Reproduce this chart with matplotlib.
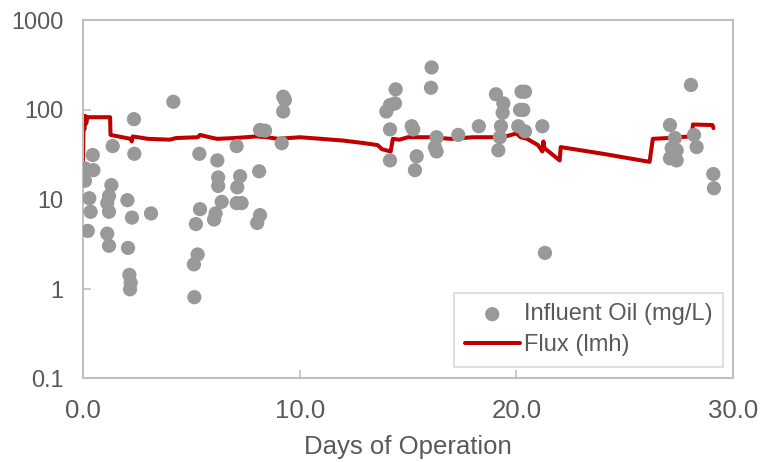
import matplotlib
matplotlib.use("Agg")
import matplotlib.pyplot as plt
from matplotlib.ticker import FixedLocator, FuncFormatter

plt.rcParams['font.family'] = ['Liberation Sans', 'DejaVu Sans']

# influent oil samples (day, mg/L)
oil_days = [0.09, 0.09, 0.22, 0.29, 0.35, 0.45, 0.48, 1.12, 1.12, 1.2, 1.2, 1.2, 1.31, 1.37,
            2.05, 2.08, 2.14, 2.17, 2.2, 2.26, 2.35, 2.37, 3.14, 4.17,
            5.12, 5.14, 5.21, 5.29, 5.37, 5.4, 6.05, 6.12, 6.2, 6.24, 6.24, 6.4,
            7.09, 7.09, 7.12, 7.25, 7.32, 8.04, 8.13, 8.17, 8.17, 8.4,
            9.17, 9.24, 9.24, 9.32,
            14.0, 14.17, 14.17, 14.17, 14.4, 14.43, 15.17, 15.24, 15.32, 15.4,
            16.06, 16.09, 16.24, 16.32, 16.32, 17.32, 18.27,
            19.06, 19.17, 19.24, 19.29, 19.37, 19.4,
            20.09, 20.17, 20.24, 20.32, 20.4, 20.4, 21.2, 21.32,
            27.09, 27.09, 27.17, 27.32, 27.4, 27.4, 28.06, 28.2, 28.32, 29.09, 29.12]
oil_vals = [22, 16, 4.4, 10.2, 7.2, 31, 21, 9, 4.1, 10.8, 7.2, 3.0, 14.3, 39,
            9.7, 2.84, 1.42, 0.98, 1.16, 6.2, 78, 32, 6.9, 122,
            1.86, 0.8, 5.25, 2.4, 32, 7.7, 5.9, 6.9, 27, 17.4, 14, 9.3,
            39, 9, 13.5, 18, 9, 5.4, 20.4, 6.6, 59, 58,
            42, 139, 95, 128,
            95, 112, 60, 27, 117, 168, 65, 60, 21, 30,
            175, 295, 38, 49, 34, 52, 65,
            148, 35, 49, 65, 92, 117,
            65, 99, 158, 99, 158, 57, 65, 2.5,
            67, 28.5, 37, 48, 35, 27, 188, 52, 38, 19, 13.2]

# flux trace (day, lmh)
flux_days = [0.0, 0.03, 0.06, 0.1, 0.15, 0.2, 0.5, 1.25, 1.27, 2.2, 2.25, 2.3, 3.0, 4.0,
             4.3, 5.3, 5.4, 6.0, 6.2, 7.0, 8.0, 8.5, 9.0, 10.0, 11.0, 12.0, 13.0,
             13.6, 13.8, 14.2, 14.3, 14.6, 15.0, 16.0, 17.0, 18.0, 19.0, 19.5, 20.0,
             20.2, 20.5, 21.0, 21.2, 21.25, 21.3, 22.0, 22.05, 24.0, 26.15, 26.3,
             27.0, 28.0, 28.1, 28.15, 29.05, 29.1]
flux_vals = [27, 80, 60, 85, 70, 82, 82, 82, 52, 47, 44, 50, 47, 46,
             48, 49, 52, 48, 47, 48, 50, 49, 47, 49, 47, 45, 42,
             40, 36, 34, 47, 46, 49, 49, 47, 49, 49, 50, 54,
             49, 47, 40, 34, 44, 37, 27, 38, 32, 26, 47,
             48, 50, 48, 68, 67, 62]

y_ticks = [0.1, 1, 10, 100, 1000]
x_ticks = [0, 10, 20, 30]

grey_text = '#595959'
spine_col = '#BFBFBF'

fig = plt.figure(figsize=(7.64, 4.62), dpi=100)
ax = fig.add_axes([83 / 764, 1 - 378 / 462, 650 / 764, 358 / 462])

ax.plot(flux_days, flux_vals, color='#C00000', lw=2.9, zorder=2, label='Flux (lmh)',
        solid_joinstyle='round', solid_capstyle='round')
ax.scatter(oil_days, oil_vals, s=105, color='#999999', edgecolors='none', zorder=3,
           label='Influent Oil (mg/L)')

ax.set_yscale('log')
ax.set_ylim(0.1, 1000)
ax.set_xlim(0, 30)
ax.yaxis.set_major_locator(FixedLocator(y_ticks))
ax.yaxis.set_major_formatter(FuncFormatter(lambda v, p: f'{v:g}'))
ax.yaxis.set_minor_locator(FixedLocator([]))
ax.xaxis.set_major_locator(FixedLocator(x_ticks))
ax.xaxis.set_major_formatter(FuncFormatter(lambda v, p: f'{v:.1f}'))

for s in ax.spines.values():
    s.set_color(spine_col)
    s.set_linewidth(1.5)

ax.tick_params(axis='both', direction='in', length=6, width=1.2, color=spine_col,
               labelcolor=grey_text)
ax.tick_params(axis='y', pad=14, labelsize=16.8)
ax.tick_params(axis='x', pad=15, labelsize=18.5)

ax.set_xlabel('Days of Operation', fontsize=18.5, color=grey_text, labelpad=9)

h, l = ax.get_legend_handles_labels()
leg = ax.legend(h[::-1], l[::-1], loc='lower right', bbox_to_anchor=(723 / 764, 1 - 367 / 462),
                bbox_transform=fig.transFigure, fontsize=17, frameon=True, fancybox=False,
                framealpha=1, edgecolor='#D9D9D9', handlelength=2.33, handletextpad=0.17,
                borderpad=0.45, labelspacing=0.38, borderaxespad=0, scatterpoints=1,
                markerscale=1.0)
leg.get_frame().set_linewidth(1.2)
for t in leg.get_texts():
    t.set_color(grey_text)

fig.savefig('out.png', dpi=100)
